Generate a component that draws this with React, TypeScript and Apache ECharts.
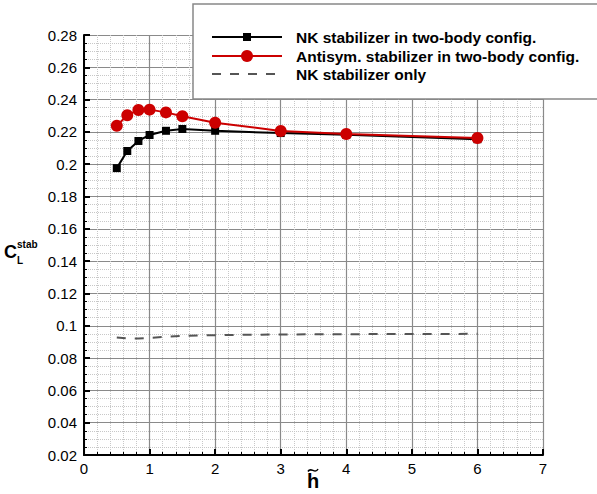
import React, { useEffect, useRef } from "react";
import * as echarts from "echarts";

const xValues = [0.5, 0.66, 0.83, 1, 1.25, 1.5, 2, 3, 4, 6];
const nkTwoBody = [0.1976, 0.2082, 0.2144, 0.2181, 0.2207, 0.2218, 0.2207, 0.2193, 0.2182, 0.2155];
const antisymTwoBody = [0.2238, 0.2303, 0.2336, 0.2338, 0.2321, 0.2297, 0.2257, 0.2206, 0.2187, 0.2162];
const nkOnly = [0.0928, 0.0922, 0.0921, 0.0925, 0.0932, 0.0937, 0.0942, 0.0946, 0.0948, 0.095];
const seriesNames = [
  "NK stabilizer in two-body config.",
  "Antisym. stabilizer in two-body config.",
  "NK stabilizer only",
];
const seriesColors = ["#000000", "#cc0000", "#555555"];
const xRange = [0, 7];
const yRange = [0.02, 0.28];
const yStep = 0.02;
const yLabelParts = ["C", "stab", "L"];
const xLabelText = "h";

const FONT = '"Liberation Sans", Arial, sans-serif';

export default function App() {
  const ref = useRef<HTMLDivElement>(null);
  useEffect(() => {
    if (!ref.current) return;
    const chart = echarts.init(ref.current, null, { renderer: "svg" });
    const pair = (ys: number[]) => xValues.map((x, i) => [x, ys[i]]);
    const legendRows = [37, 56, 74];
    const legendGraphics: any[] = [
      {
        type: "rect",
        shape: { x: 193, y: 4, width: 430, height: 95 },
        style: { fill: "#fff", stroke: "#888", lineWidth: 1.5 },
        z: 100,
      },
    ];
    seriesNames.forEach((name, i) => {
      const y = legendRows[i];
      legendGraphics.push({
        type: "line",
        shape: { x1: 212, y1: y, x2: 282, y2: y },
        style: {
          stroke: seriesColors[i],
          lineWidth: 2,
          lineDash: i === 2 ? [9, 9] : null,
        },
        z: 101,
      });
      if (i === 0) {
        legendGraphics.push({
          type: "rect",
          shape: { x: 243, y: y - 4, width: 8, height: 8 },
          style: { fill: seriesColors[i] },
          z: 102,
        });
      } else if (i === 1) {
        legendGraphics.push({
          type: "circle",
          shape: { cx: 247, cy: y, r: 6 },
          style: { fill: seriesColors[i] },
          z: 102,
        });
      }
      legendGraphics.push({
        type: "text",
        x: 296,
        y: y,
        style: {
          text: name,
          fontFamily: FONT,
          fontWeight: "bold",
          fontSize: 15.5,
          fill: "#000",
          verticalAlign: "middle",
          align: "left",
        },
        z: 102,
      });
    });

    const txt = (text: string, x: number, y: number, size: number) => ({
      type: "text",
      x,
      y,
      style: {
        text,
        fontFamily: FONT,
        fontWeight: "bold",
        fontSize: size,
        fill: "#000",
        align: "left",
        verticalAlign: "middle",
      },
    });

    const option: any = {
      animation: false,
      backgroundColor: "#fff",
      grid: { left: 84, right: 54, top: 35, bottom: 39 },
      xAxis: {
        type: "value",
        min: xRange[0],
        max: xRange[1],
        interval: 1,
        axisLine: { show: true, onZero: false, lineStyle: { color: "#000", width: 2 } },
        axisTick: { show: true, inside: true, length: 6, lineStyle: { color: "#000", width: 2 } },
        minorTick: { show: true, splitNumber: 5, length: 3, lineStyle: { color: "#000", width: 1 } },
        axisLabel: { color: "#000", fontSize: 15, fontFamily: FONT, margin: 6 },
        splitLine: { show: true, lineStyle: { color: "#8a8a8a", width: 1.2 } },
        minorSplitLine: { show: true, lineStyle: { color: "#c8c8c8", width: 1, type: "dotted" } },
      },
      yAxis: {
        type: "value",
        min: yRange[0],
        max: yRange[1],
        interval: yStep,
        axisLine: { show: true, onZero: false, lineStyle: { color: "#000", width: 2 } },
        axisTick: { show: true, inside: true, length: 6, lineStyle: { color: "#000", width: 2 } },
        minorTick: { show: true, splitNumber: 4, length: 3, lineStyle: { color: "#000", width: 1 } },
        axisLabel: {
          color: "#000",
          fontSize: 15,
          fontFamily: FONT,
          margin: 7,
          formatter: (v: number) => String(parseFloat(v.toFixed(2))),
        },
        splitLine: { show: true, lineStyle: { color: "#8a8a8a", width: 1.2 } },
        minorSplitLine: { show: true, lineStyle: { color: "#c8c8c8", width: 1, type: "dotted" } },
      },
      series: [
        {
          name: seriesNames[0],
          type: "line",
          data: pair(nkTwoBody),
          symbol: "rect",
          symbolSize: 8,
          lineStyle: { color: seriesColors[0], width: 2 },
          itemStyle: { color: seriesColors[0] },
          z: 3,
        },
        {
          name: seriesNames[1],
          type: "line",
          data: pair(antisymTwoBody),
          symbol: "circle",
          symbolSize: 12,
          lineStyle: { color: seriesColors[1], width: 2 },
          itemStyle: { color: seriesColors[1] },
          z: 4,
        },
        {
          name: seriesNames[2],
          type: "line",
          data: pair(nkOnly),
          symbol: "none",
          showSymbol: false,
          lineStyle: { color: seriesColors[2], width: 2, type: [9, 9] },
          z: 2,
        },
      ],
      graphic: [
        ...legendGraphics,
        txt(yLabelParts[0], 4, 252, 18),
        txt(yLabelParts[1], 17, 244, 10),
        txt(yLabelParts[2], 17, 260, 10),
        {
          type: "text",
          x: 313,
          y: 481,
          style: {
            text: xLabelText,
            fontFamily: FONT,
            fontWeight: "bold",
            fontSize: 20,
            fill: "#000",
            align: "center",
            verticalAlign: "middle",
          },
        },
        {
          type: "bezierCurve",
          shape: {
            x1: 308,
            y1: 471.5,
            cpx1: 311,
            cpy1: 466,
            cpx2: 315,
            cpy2: 475,
            x2: 318,
            y2: 469,
          },
          style: { stroke: "#000", lineWidth: 1.6, fill: null },
        },
      ],
    };
    chart.setOption(option);
    return () => chart.dispose();
  }, []);
  return (
    <div
      ref={ref}
      style={{ position: "fixed", left: 0, top: 0, width: 597, height: 494 }}
    />
  );
}
